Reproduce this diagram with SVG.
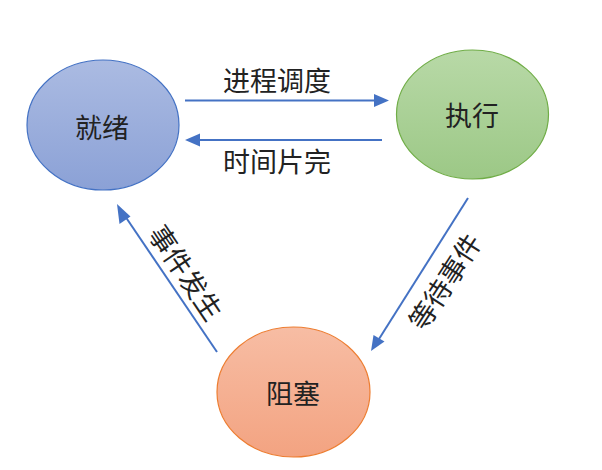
<svg xmlns="http://www.w3.org/2000/svg" width="602" height="470" viewBox="0 0 602 470">
<style>
.lbl{font-family:"Noto Sans CJK SC","Noto Sans",sans-serif;font-size:27px;fill:#222;text-anchor:middle;dominant-baseline:central}
.edge{stroke:#4472c4;stroke-width:2;fill:none}
.head{fill:#4472c4}
</style>
<defs>
<linearGradient id="gb" x1="0" y1="0" x2="0" y2="1"><stop offset="0" stop-color="#abbbe2"/><stop offset="1" stop-color="#8ba1d6"/></linearGradient>
<linearGradient id="gg" x1="0" y1="0" x2="0" y2="1"><stop offset="0" stop-color="#b8d9a7"/><stop offset="1" stop-color="#9cc886"/></linearGradient>
<linearGradient id="go" x1="0" y1="0" x2="0" y2="1"><stop offset="0" stop-color="#f7bda4"/><stop offset="1" stop-color="#f3a381"/></linearGradient>
</defs>
<rect width="602" height="470" fill="#fff"/>
<g id="ready"><ellipse cx="103" cy="125" rx="76" ry="65" fill="url(#gb)" stroke="#4472c4" stroke-width="1.2"/><text class="lbl" x="102" y="126">就绪</text></g>
<g id="running"><ellipse cx="472.5" cy="114.5" rx="76" ry="64.5" fill="url(#gg)" stroke="#70ad47" stroke-width="1.2"/><text class="lbl" x="472" y="114">执行</text></g>
<g id="blocked"><ellipse cx="293.5" cy="392" rx="76.5" ry="65" fill="url(#go)" stroke="#ed7d31" stroke-width="1.2"/><text class="lbl" x="293" y="392">阻塞</text></g>
<g id="connectors">
<line class="edge" x1="185" y1="100.5" x2="374" y2="100.5"/>
<path class="head" d="M374,94 L389,100.5 L374,107 z"/>
<line class="edge" x1="382" y1="140" x2="200" y2="140"/>
<path class="head" d="M200,133.5 L185,140 L200,146.5 z"/>
<line class="edge" x1="217" y1="352" x2="125" y2="216"/>
<path class="head" d="M119.5,224 L117,204 L130.5,216.5 z"/>
<line class="edge" x1="468" y1="198" x2="379" y2="339"/>
<path class="head" d="M373.5,335 L371,351 L384.5,341.5 z"/>
<text class="lbl" x="277" y="79">进程调度</text>
<text class="lbl" x="277" y="160">时间片完</text>
<text class="lbl" transform="translate(187,272) rotate(56)">事件发生</text>
<text class="lbl" transform="translate(444,281) rotate(-57)">等待事件</text>
</g>
</svg>
